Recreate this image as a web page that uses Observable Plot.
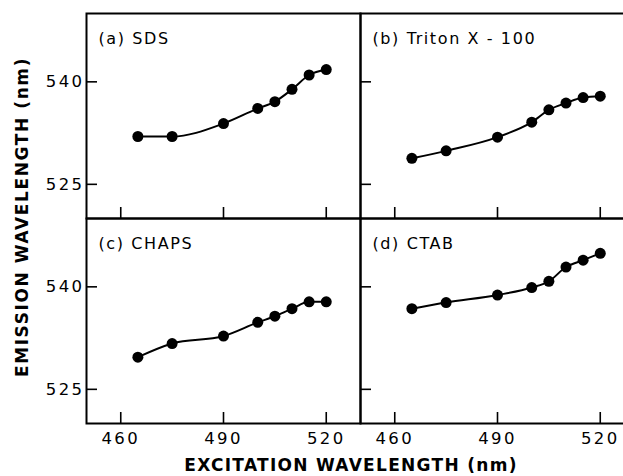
<!DOCTYPE html>
<html>
<head>
<meta charset="utf-8">
<script src="https://cdn.jsdelivr.net/npm/d3@7"></script>
<script src="https://cdn.jsdelivr.net/npm/@observablehq/plot@0.6"></script>
<style>
  html, body { margin: 0; padding: 0; background: #fff; overflow: hidden; }
  #wrap { width: 623px; height: 476px; overflow: hidden; position: relative; }
  #wrap svg { max-width: none !important; display: block; }
  #wrap svg text { letter-spacing: 1.6px; }
  #wrap svg g[aria-label="x-axis tick label"] text,
  #wrap svg g[aria-label="y-axis tick label"] text { letter-spacing: 2.4px; }
  #wrap svg text.title { letter-spacing: 1.3px; }
  #wrap svg text.ytitle { letter-spacing: 1.6px; }
</style>
</head>
<body>
<div id="wrap"></div>
<script>
// Excitation wavelengths (nm), shared by all four panels
const excitation = [465, 475, 490, 500, 505, 510, 515, 520];

// Emission wavelengths (nm)
const sds    = [532.0, 532.0, 533.9, 536.1, 537.1, 538.9, 541.0, 541.8];
const triton = [528.8, 529.9, 531.9, 534.1, 535.9, 536.9, 537.7, 537.9];
const chaps  = [529.7, 531.7, 532.8, 534.8, 535.7, 536.8, 537.8, 537.8];
const ctab   = [536.8, 537.7, 538.8, 539.9, 540.8, 542.9, 543.9, 544.9];

// Panel labels and grid positions
const panelLabels = ["(a) SDS", "(b) Triton X - 100", "(c) CHAPS", "(d) CTAB"];
const panelCols = ["L", "R", "L", "R"];
const panelRows = ["T", "T", "B", "B"];
const panelValues = [sds, triton, chaps, ctab];

// Tick values
const xTicks = [460, 490, 520];
const yTicks = [525, 540];

const panels = panelLabels.map((label, i) => ({label, col: panelCols[i], row: panelRows[i]}));
const rows = panels.flatMap((p, i) =>
  excitation.map((x, j) => ({panel: p.label, col: p.col, row: p.row, x, y: panelValues[i][j]}))
);

const W = 634, H = 476, ML = 86, MT = 12, MB = 53;

const chart = Plot.plot({
  width: W,
  height: H,
  marginLeft: ML,
  marginRight: 0,
  marginTop: MT,
  marginBottom: MB,
  style: {fontFamily: "DejaVu Sans", color: "black", background: "white"},
  fx: {domain: ["L", "R"], padding: 0, axis: null},
  fy: {domain: ["T", "B"], padding: 0, axis: null},
  x: {domain: [450, 530], label: null},
  y: {domain: [520, 550], label: null},
  marks: [
    Plot.frame({stroke: "black", strokeWidth: 2}),
    // inward tick marks on every panel
    Plot.axisX({ticks: xTicks, tickSize: -11, fill: "none", strokeWidth: 1.6, facetAnchor: null, label: null}),
    Plot.axisY({ticks: yTicks, tickSize: -11, fill: "none", strokeWidth: 1.6, facetAnchor: null, label: null}),
    // tick labels on outer panels
    Plot.axisX({ticks: xTicks, tickSize: 0, tickPadding: 9, fontSize: 16.5, label: null}),
    Plot.axisY({ticks: yTicks, tickSize: 0, tickPadding: 2, fontSize: 16.5, label: null}),
    Plot.line(rows, {x: "x", y: "y", z: "panel", fx: "col", fy: "row", curve: "monotone-x", stroke: "black", strokeWidth: 2}),
    Plot.dot(rows, {x: "x", y: "y", fx: "col", fy: "row", r: 5.5, fill: "black", stroke: "none"}),
    Plot.text(panels, {fx: "col", fy: "row", text: "label", frameAnchor: "top-left", textAnchor: "start", lineAnchor: "top", dx: 12, dy: 19, fontSize: 16})
  ]
});

document.getElementById("wrap").appendChild(chart);

// Overall axis titles
const svg = d3.select(chart);
svg.append("text")
  .attr("class", "title")
  .attr("x", 351)
  .attr("y", 471)
  .attr("text-anchor", "middle")
  .attr("font-size", 17)
  .attr("font-weight", "bold")
  .attr("fill", "black")
  .text("EXCITATION WAVELENGTH (nm)");
svg.append("text")
  .attr("class", "ytitle")
  .attr("transform", "translate(28,217) rotate(-90)")
  .attr("text-anchor", "middle")
  .attr("font-size", 17)
  .attr("font-weight", "bold")
  .attr("fill", "black")
  .text("EMISSION WAVELENGTH (nm)");
</script>
</body>
</html>
